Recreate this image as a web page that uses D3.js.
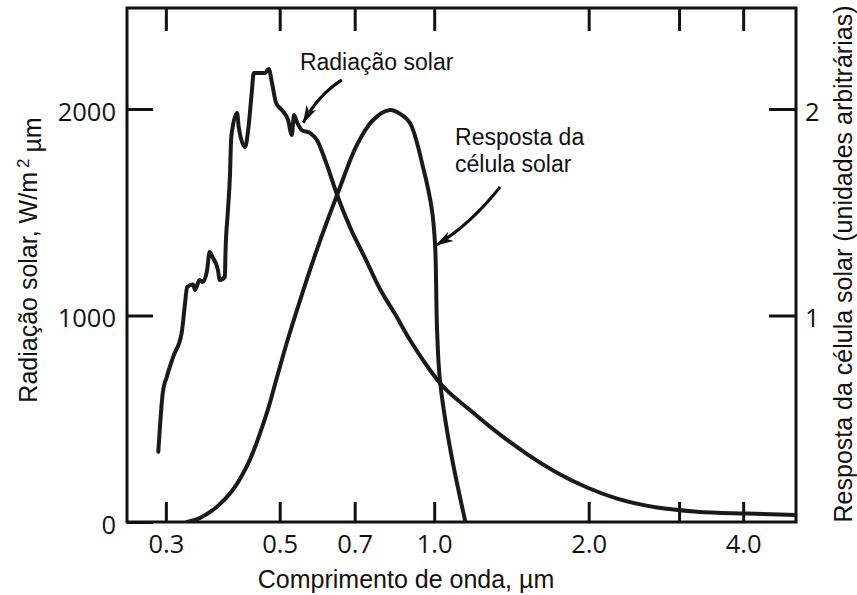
<!DOCTYPE html>
<html>
<head>
<meta charset="utf-8">
<script src="https://cdn.jsdelivr.net/npm/d3@7"></script>
<style>
  html, body { margin: 0; padding: 0; background: #fff; }
  svg { display: block; }
  .tick-label { font-family: "Open Sans", sans-serif; font-size: 25.5px; fill: #111; }
  .title { font-family: "Liberation Sans", Arial, sans-serif; font-size: 25px; fill: #111; }
  .note { font-family: "Liberation Sans", Arial, sans-serif; font-size: 23px; fill: #111; }
</style>
</head>
<body>
<svg id="chart" width="857" height="595"></svg>
<script>
// Solar spectral irradiance, wavelength in µm vs W/m²µm
const solarWavelength = [0.290, 0.296, 0.301, 0.310, 0.322, 0.327, 0.330, 0.339, 0.342, 0.349,
  0.354, 0.361, 0.365, 0.370, 0.379, 0.382, 0.391, 0.392, 0.396, 0.400, 0.402, 0.404, 0.413,
  0.416, 0.428, 0.434, 0.441, 0.445, 0.458, 0.468, 0.476, 0.483, 0.492, 0.505, 0.519, 0.528,
  0.533, 0.540, 0.552, 0.573, 0.591, 0.613, 0.649, 0.685, 0.733, 0.784, 0.839, 0.897, 0.981,
  1.026, 1.174, 1.344, 1.517, 1.735, 1.986, 2.272, 2.719, 3.254, 4.072, 5.07];
const solarIrradiance = [340, 630, 700, 800, 915, 1060, 1138, 1150, 1124, 1172,
  1162, 1220, 1308, 1283, 1220, 1172, 1187, 1303, 1496, 1680, 1850, 1898, 1981,
  1913, 1816, 1898, 2078, 2174, 2174, 2174, 2194, 2126, 2029, 1995, 1947, 1874,
  1971, 1937, 1898, 1884, 1850, 1753, 1574, 1429, 1279, 1128, 1007, 881, 736,
  673, 542, 423, 329, 239, 167, 113, 70, 50, 41, 34];

// Solar cell spectral response, arbitrary units
const cellWavelength = [0.330, 0.349, 0.377, 0.405, 0.437, 0.472, 0.494, 0.516, 0.548, 0.596,
  0.649, 0.707, 0.760, 0.820, 0.860, 0.897, 0.951, 0.990, 1.004, 1.013, 1.026, 1.073, 1.148];
const cellResponse = [0.0, 0.019, 0.073, 0.155, 0.300, 0.528, 0.702, 0.867, 1.075, 1.346,
  1.593, 1.826, 1.947, 1.995, 1.975, 1.932, 1.719, 1.511, 1.341, 0.930, 0.688, 0.363, 0.010];

// Axis ticks
const xTicks = [0.3, 0.5, 0.7, 1.0, 2.0, 3.0, 4.0];
const xTickLabels = ["0.3", "0.5", "0.7", "1.0", "2.0", "", "4.0"];
const yLeftTicks = [0, 1000, 2000];
const yRightTicks = [1, 2];

// Callout labels and arrows, in data units (wavelength, W/m²µm)
const noteLines = [
  { lines: ["Radiação solar"], at: [0.5475, 2189] },
  { lines: ["Resposta da", "célula solar"], at: [1.098, 1826] }
];
const arrowPaths = [
  [[0.661, 2141], [0.594, 2068], [0.556, 1935]],
  [[1.344, 1622], [1.174, 1438], [1.010, 1341]]
];

const svg = d3.select("#chart");
const box = { left: 127, right: 796, top: 8, bottom: 522 };

const x = d3.scaleLog().domain([0.252, 5.07]).range([box.left, box.right]);
const y = d3.scaleLinear().domain([0, 2000]).range([box.bottom, 109]);
const yR = d3.scaleLinear().domain([0, 2]).range([box.bottom, 109]);

const defs = svg.append("defs");
defs.append("clipPath").attr("id", "plot-clip")
  .append("rect")
  .attr("x", box.left).attr("y", box.top)
  .attr("width", box.right - box.left).attr("height", box.bottom - box.top);
defs.append("marker")
  .attr("id", "head")
  .attr("viewBox", "0 -6 18 12")
  .attr("refX", 17).attr("refY", 0)
  .attr("markerWidth", 18).attr("markerHeight", 12)
  .attr("markerUnits", "userSpaceOnUse")
  .attr("orient", "auto")
  .append("path")
  .attr("d", "M0,-5.5L18,0L0,5.5L5,0Z")
  .attr("fill", "#111");

// Axes with inward ticks
function styleAxis(g) {
  g.select(".domain").remove();
  g.selectAll(".tick line").attr("stroke", "#111").attr("stroke-width", 3);
  g.selectAll(".tick text").attr("class", "tick-label").attr("font-size", null).attr("font-family", null);
}

svg.append("g")
  .attr("transform", `translate(0,${box.bottom})`)
  .call(d3.axisBottom(x).tickValues(xTicks).tickSize(-20).tickPadding(13)
    .tickFormat((d, i) => xTickLabels[i]))
  .call(styleAxis);

svg.append("g")
  .attr("transform", `translate(0,${box.top})`)
  .call(d3.axisTop(x).tickValues(xTicks).tickSize(-23).tickFormat(""))
  .call(styleAxis);

svg.append("g")
  .attr("transform", `translate(${box.left},0)`)
  .call(d3.axisLeft(y).tickValues(yLeftTicks).tickSize(-26).tickPadding(11).tickFormat(d3.format("d")))
  .call(styleAxis)
  .call(g => g.selectAll(".tick text").attr("dy", "0.45em"));

svg.append("g")
  .attr("transform", `translate(${box.right},0)`)
  .call(d3.axisRight(yR).tickValues(yRightTicks).tickSize(-27).tickPadding(9).tickFormat(d3.format("d")))
  .call(styleAxis)
  .call(g => g.selectAll(".tick text").attr("dy", "0.45em"));

// Frame
svg.append("rect")
  .attr("x", box.left).attr("y", box.top)
  .attr("width", box.right - box.left).attr("height", box.bottom - box.top)
  .attr("fill", "none").attr("stroke", "#111").attr("stroke-width", 3);

// Curves
const plot = svg.append("g").attr("clip-path", "url(#plot-clip)");

const solar = solarWavelength.map((w, i) => [w, solarIrradiance[i]]);
const cell = cellWavelength.map((w, i) => [w, cellResponse[i]]);

plot.append("path")
  .datum(solar)
  .attr("fill", "none").attr("stroke", "#1a1a1a").attr("stroke-width", 4)
  .attr("stroke-linejoin", "round").attr("stroke-linecap", "round")
  .attr("d", d3.line().x(d => x(d[0])).y(d => y(d[1])).curve(d3.curveMonotoneX));

plot.append("path")
  .datum(cell)
  .attr("fill", "none").attr("stroke", "#1a1a1a").attr("stroke-width", 4)
  .attr("stroke-linejoin", "round").attr("stroke-linecap", "round")
  .attr("d", d3.line().x(d => x(d[0])).y(d => yR(d[1])).curve(d3.curveCatmullRom.alpha(0.5)));

// Callouts
noteLines.forEach(n => {
  const t = svg.append("text").attr("class", "note")
    .attr("x", x(n.at[0])).attr("y", y(n.at[1]));
  n.lines.forEach((ln, i) => {
    t.append("tspan").attr("x", x(n.at[0])).attr("dy", i === 0 ? 0 : "1.17em").text(ln);
  });
});

arrowPaths.forEach(p => {
  const [a, c, b] = p.map(d => [x(d[0]), y(d[1])]);
  svg.append("path")
    .attr("d", `M${a[0]},${a[1]}Q${c[0]},${c[1]} ${b[0]},${b[1]}`)
    .attr("fill", "none").attr("stroke", "#111").attr("stroke-width", 3)
    .attr("marker-end", "url(#head)");
});

// Axis titles
svg.append("text").attr("class", "title")
  .attr("x", 406).attr("y", 588)
  .attr("text-anchor", "middle")
  .text("Comprimento de onda, µm");

const leftTitle = svg.append("text").attr("class", "title")
  .attr("transform", "translate(37,260) rotate(-90)")
  .attr("text-anchor", "middle");
leftTitle.append("tspan").text("Radiação solar, W/m");
leftTitle.append("tspan").attr("dx", 4).attr("dy", "-0.5em").attr("font-size", "17px").text("2");
leftTitle.append("tspan").attr("dx", 6).attr("dy", "0.5em").text("µm");

svg.append("text").attr("class", "title")
  .attr("font-size", "24px")
  .attr("transform", "translate(852,264) rotate(-90)")
  .attr("text-anchor", "middle")
  .text("Resposta da célula solar (unidades arbitrárias)");
</script>
</body>
</html>
